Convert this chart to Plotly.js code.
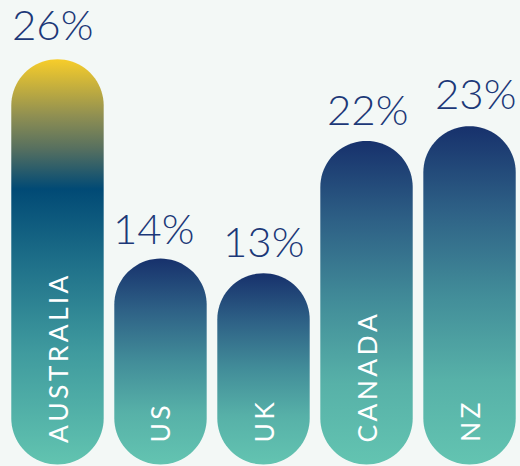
<!DOCTYPE html>
<html>
<head>
<meta charset="utf-8">
<script src="https://cdn.plot.ly/plotly-3.0.1.min.js"></script>
<style>
html,body{margin:0;padding:0;background:#f3f8f6;}
#chart{width:520px;height:466px;}
</style>
</head>
<body>
<div id="chart"></div>
<script>
// ---- data ----
const countries = ['AUSTRALIA', 'US', 'UK', 'CANADA', 'NZ'];
const percentLabels = ['26%', '14%', '13%', '22%', '23%'];
// bar lengths as drawn in the picture (Australia bar is drawn taller than its 26%)
const barLengths = [27.55, 14, 13, 22, 23];

// ---- layout / style constants ----
const W = 520, H = 466;
const xRange = [-0.558, 4.49];
const yRange = [-0.102, 31.58];
const pxPerX = W / (xRange[1] - xRange[0]);
const pxPerY = H / (yRange[1] - yRange[0]);
const halfWidthPx = 46.2;
const rx = halfWidthPx / pxPerX;
const ry = halfWidthPx / pxPerY;
const pctXShift = [-5, -7, 0, 1, 6];
const pctYShift = [8, 4, 5, 5, 6];

const navyScale = [[0, '#63c4b1'], [0.25, '#57b1a8'], [0.5, '#428d99'], [0.75, '#2e6186'], [1, '#17316c']];
const ausScale = [[0, '#62c4b0'], [0.28, '#3f9a9e'], [0.5, '#1e6f89'], [0.68, '#014a75'], [0.78, '#57705f'], [0.86, '#8f8f52'], [1, '#f7cd2a']];

function pill(cx, h) {
  const xs = [], ys = [];
  const n = 40;
  for (let k = 0; k <= n; k++) {
    const a = Math.PI * k / n;
    xs.push(cx + rx * Math.cos(a));
    ys.push(h - ry + ry * Math.sin(a));
  }
  for (let k = 0; k <= n; k++) {
    const a = Math.PI + Math.PI * k / n;
    xs.push(cx + rx * Math.cos(a));
    ys.push(ry + ry * Math.sin(a));
  }
  xs.push(xs[0]); ys.push(ys[0]);
  return {xs, ys};
}

const traces = barLengths.map((h, i) => {
  const p = pill(i, h);
  return {
    type: 'scatter',
    mode: 'none',
    x: p.xs,
    y: p.ys,
    fill: 'toself',
    fillgradient: {
      type: 'vertical',
      colorscale: i === 0 ? ausScale : navyScale,
      start: 0,
      stop: h
    },
    hoverinfo: 'skip',
    showlegend: false
  };
});

const annotations = [];
barLengths.forEach((h, i) => {
  annotations.push({
    x: i, y: h, xref: 'x', yref: 'y',
    text: percentLabels[i],
    showarrow: false,
    xanchor: 'center', yanchor: 'bottom',
    xshift: pctXShift[i],
    yshift: pctYShift[i],
    font: {family: 'Lato, "Open Sans", sans-serif', size: 42, color: '#1c3878', weight: 300}
  });
  annotations.push({
    x: i, y: 0, xref: 'x', yref: 'y',
    text: countries[i].split('').join('\u2009'),
    showarrow: false,
    textangle: -90,
    xanchor: 'center', yanchor: 'bottom',
    yshift: 20,
    font: {family: 'Lato, "Open Sans", sans-serif', size: 26.5, color: '#ffffff'}
  });
});

const layout = {
  width: W, height: H,
  margin: {l: 0, r: 0, t: 0, b: 0, pad: 0},
  paper_bgcolor: '#f3f8f6',
  plot_bgcolor: '#f3f8f6',
  xaxis: {range: xRange, visible: false, fixedrange: true},
  yaxis: {range: yRange, visible: false, fixedrange: true},
  annotations: annotations,
  showlegend: false,
  hovermode: false
};

Plotly.newPlot('chart', traces, layout, {staticPlot: true, displayModeBar: false});
</script>
</body>
</html>
